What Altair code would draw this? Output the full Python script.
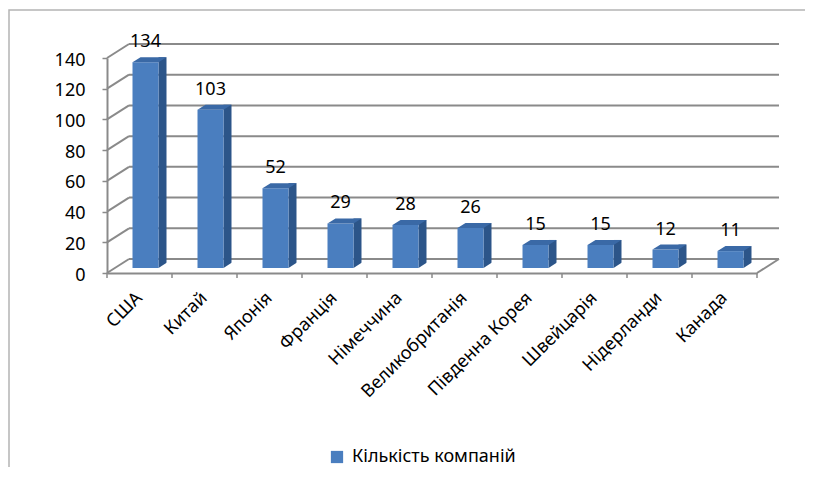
import altair as alt
import pandas as pd

countries = ["США", "Китай", "Японія", "Франція", "Німеччина", "Великобританія",
             "Південна Корея", "Швейцарія", "Нідерланди", "Канада"]
values = [134, 103, 52, 29, 28, 26, 15, 15, 12, 11]
series_name = "Кількість компаній"
y_ticks = [0, 20, 40, 60, 80, 100, 120, 140]

FRONT = "#4a7ebf"
SIDE = "#2c5589"
TOP = "#3a69a6"
GRID = "#8a8a8a"
FONT = "Noto Sans"

W, H = 650, 215
DX, DY = 22, -14          # depth of the 3-D box
PAD = dict(left=99, top=50, right=48, bottom=194)

df = pd.DataFrame({"country": countries, "value": values, "series": [series_name] * len(values)})
gdf = pd.DataFrame({"v": y_ticks})
one = pd.DataFrame({"k": [0]})

yscale = alt.Scale(domain=[0, 140], nice=False, zero=True)
xscale = alt.Scale(paddingInner=0, paddingOuter=0)

YAXIS = alt.Axis(values=y_ticks, grid=False, domain=True, domainColor=GRID,
                 domainWidth=2, tickColor=GRID, tickWidth=1.5, tickSize=5,
                 labelPadding=17, labelOffset=2, labelFont=FONT, labelFontSize=18,
                 labelColor="#000000", title=None)
XAXIS = alt.Axis(labelAngle=-45, ticks=False, domain=True, domainColor=GRID,
                 domainWidth=2, labelPadding=22, labelFont=FONT, labelFontSize=18,
                 labelColor="#000000", labelAlign="right", labelBaseline="middle",
                 labelLimit=400, title=None)


def X(**kw):
    return alt.X("country:N", sort=countries, scale=xscale, axis=XAXIS, title=None, **kw)


def Y(field="value:Q"):
    return alt.Y(field, scale=yscale, axis=YAXIS, title=None)


def Y0():
    return alt.Y(datum=0, type="quantitative", scale=yscale, axis=YAXIS, title=None)


# chart frame: an outlined rectangle whose right/bottom edges fall outside the page
frame = alt.Chart(one).mark_rect(fill=None, stroke="#b4b4b4", strokeWidth=1.5).encode(
    x=alt.value(-98), x2=alt.value(W + PAD["right"] + 30),
    y=alt.value(-48), y2=alt.value(H + PAD["bottom"] + 30))

# back wall gridlines
grid = alt.Chart(gdf).mark_rule(color=GRID, strokeWidth=2, yOffset=DY).encode(
    y=Y("v:Q"), x=alt.value(DX), x2=alt.value(W + DX))
diag = alt.Chart(gdf).mark_rule(color=GRID, strokeWidth=2, y2Offset=DY).encode(
    y=Y("v:Q"), y2="v:Q", x=alt.value(0), x2=alt.value(DX))
floor_right = alt.Chart(one).mark_rule(color=GRID, strokeWidth=2, y2Offset=DY).encode(
    x=alt.value(W), x2=alt.value(W + DX), y=Y0(), y2=alt.datum(0))

ticks = alt.Chart(df).mark_rule(color=GRID, strokeWidth=1.5, y2Offset=5).encode(
    x=X(bandPosition=0), y=Y0(), y2=alt.datum(0))
tick_end = alt.Chart(one).mark_rule(color=GRID, strokeWidth=1.5, y2Offset=5).encode(
    x=alt.value(W), y=Y0(), y2=alt.datum(0))

base = alt.Chart(df)
side = base.mark_bar(color=SIDE, size=8, xOffset=23, yOffset=-10, y2Offset=-5).encode(
    x=X(), y=Y(), y2=alt.datum(0))
cover = base.mark_point(shape="M13,0 L21.5,0 L21.5,-5.5 Z", size=4, filled=True, opacity=1,
                        color="#ffffff", strokeWidth=0, xOffset=6, yOffset=-5).encode(
    x=X(), y=Y0())
front = base.mark_bar(size=26, xOffset=6, yOffset=-5, y2Offset=-5).encode(
    x=X(), y=Y(), y2=alt.datum(0),
    color=alt.Color("series:N", scale=alt.Scale(range=[FRONT]),
                    legend=alt.Legend(title=None, orient="none", legendX=221, legendY=390,
                                      symbolType="square", symbolSize=150,
                                      symbolStrokeWidth=0, padding=0, labelOffset=6,
                                      labelLimit=400,
                                      labelFont=FONT, labelFontSize=18,
                                      labelColor="#000000")))
top = base.mark_point(shape="M-13,0 L13,0 L21,-5 L-5,-5 Z", size=4, filled=True, opacity=1,
                      color=TOP, strokeWidth=0, xOffset=6, yOffset=-5).encode(
    x=X(), y=Y())
labels = base.mark_text(font=FONT, fontSize=18, color="#000000", baseline="alphabetic",
                        xOffset=6, dy=-20).encode(
    x=X(), y=Y(), text="value:Q")

chart = alt.layer(frame, grid, diag, floor_right, ticks, tick_end,
                  side, cover, front, top, labels).properties(
    width=W, height=H, padding=PAD, autosize="none", background="white"
).configure_view(stroke=None)

chart.save("out.html", embed_options={"renderer": "svg", "actions": False})
